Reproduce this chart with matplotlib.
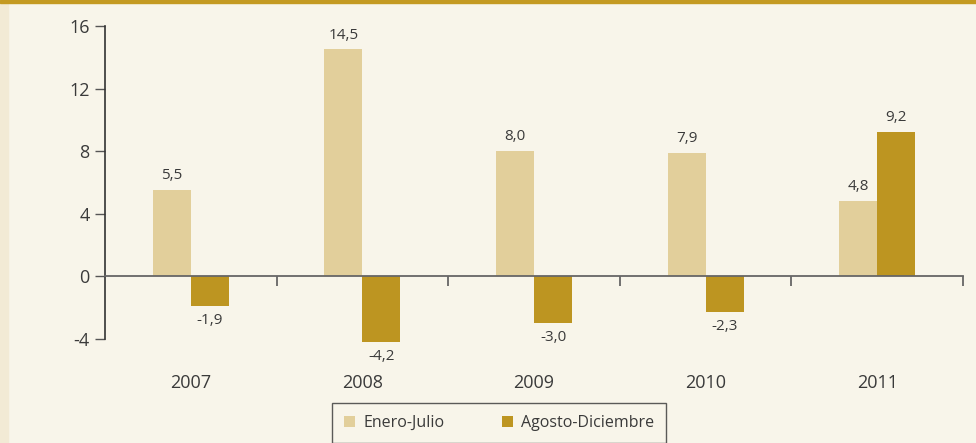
import matplotlib.pyplot as plt
import matplotlib.transforms as mtransforms
import numpy as np
from matplotlib.patches import Rectangle

# datos
anios = ['2007', '2008', '2009', '2010', '2011']
enero_julio = [5.5, 14.5, 8.0, 7.9, 4.8]
agosto_diciembre = [-1.9, -4.2, -3.0, -2.3, 9.2]

c_enero = '#E2CF9B'
c_agosto = '#BD9521'
fondo = '#F8F5EA'
texto = '#3A3A3A'

plt.rcParams['font.family'] = ['Open Sans', 'DejaVu Sans']

fig = plt.figure(figsize=(9.76, 4.43), dpi=100, facecolor=fondo)
# franja izquierda y linea superior
fig.patches.append(Rectangle((0, 0), 8/976, 1, transform=fig.transFigure,
                             color='#F2EAD5', zorder=0))
fig.patches.append(Rectangle((0, 1 - 3/443), 1, 3/443, transform=fig.transFigure,
                             color='#C49A22', zorder=1))

ax = fig.add_axes([105/976, 1 - 339/443, (963 - 105)/976, (339 - 26)/443])
ax.set_facecolor(fondo)

x = np.arange(len(anios))
w = 0.222
b1 = ax.bar(x - w/2, enero_julio, w, color=c_enero, label='Enero-Julio', zorder=2,
            clip_on=False)
b2 = ax.bar(x + w/2, agosto_diciembre, w, color=c_agosto, label='Agosto-Diciembre', zorder=2,
            clip_on=False)

def fmt(v):
    return f'{v:.1f}'.replace('.', ',')

for barras in (b1, b2):
    for r in barras:
        v = r.get_height()
        cx = r.get_x() + r.get_width()/2
        if v >= 0:
            ax.annotate(fmt(v), (cx, v), xytext=(0, 5), textcoords='offset points',
                        ha='center', va='bottom', fontsize=11, color=texto,
                        annotation_clip=False)
        else:
            ax.annotate(fmt(v), (cx, v), xytext=(0, -5), textcoords='offset points',
                        ha='center', va='top', fontsize=11, color=texto,
                        annotation_clip=False)

ax.set_xlim(-0.5, len(anios) - 0.5)
ax.set_ylim(-4, 16)
ax.set_yticks([-4, 0, 4, 8, 12, 16])
ax.set_yticklabels(['-4', '0', '4', '8', '12', '16'])
ax.tick_params(axis='y', direction='out', length=7, width=1, color='#555555',
               labelsize=13, labelcolor=texto, pad=4)

ax.set_xticks(np.arange(len(anios)) + 0.5)
ax.set_xticklabels([])
ax.tick_params(axis='x', direction='out', length=7, width=1.3, color='#666666')

ax.spines['bottom'].set_position(('data', 0))
ax.spines['bottom'].set_color('#666666')
ax.spines['bottom'].set_linewidth(1.3)
ax.spines['left'].set_color('#333333')
ax.spines['left'].set_linewidth(1.2)
ax.spines['top'].set_visible(False)
ax.spines['right'].set_visible(False)

trans = mtransforms.blended_transform_factory(ax.transData, ax.transAxes)
for i, a in enumerate(anios):
    ax.text(x[i], -0.14, a, transform=trans, ha='center', va='center',
            fontsize=13, color=texto)

leg = fig.legend(handles=[b1, b2], loc='center', bbox_to_anchor=(499/976, 1 - 423/443),
                 ncol=2, frameon=True, fancybox=False, fontsize=11.5,
                 handlelength=0.7, handleheight=0.7, handletextpad=0.5,
                 columnspacing=3.6, borderpad=0.75, labelcolor=texto)
leg.get_frame().set_edgecolor('#333333')
leg.get_frame().set_facecolor(fondo)
leg.get_frame().set_linewidth(1.0)

fig.savefig('out.png', dpi=100, facecolor=fondo)
